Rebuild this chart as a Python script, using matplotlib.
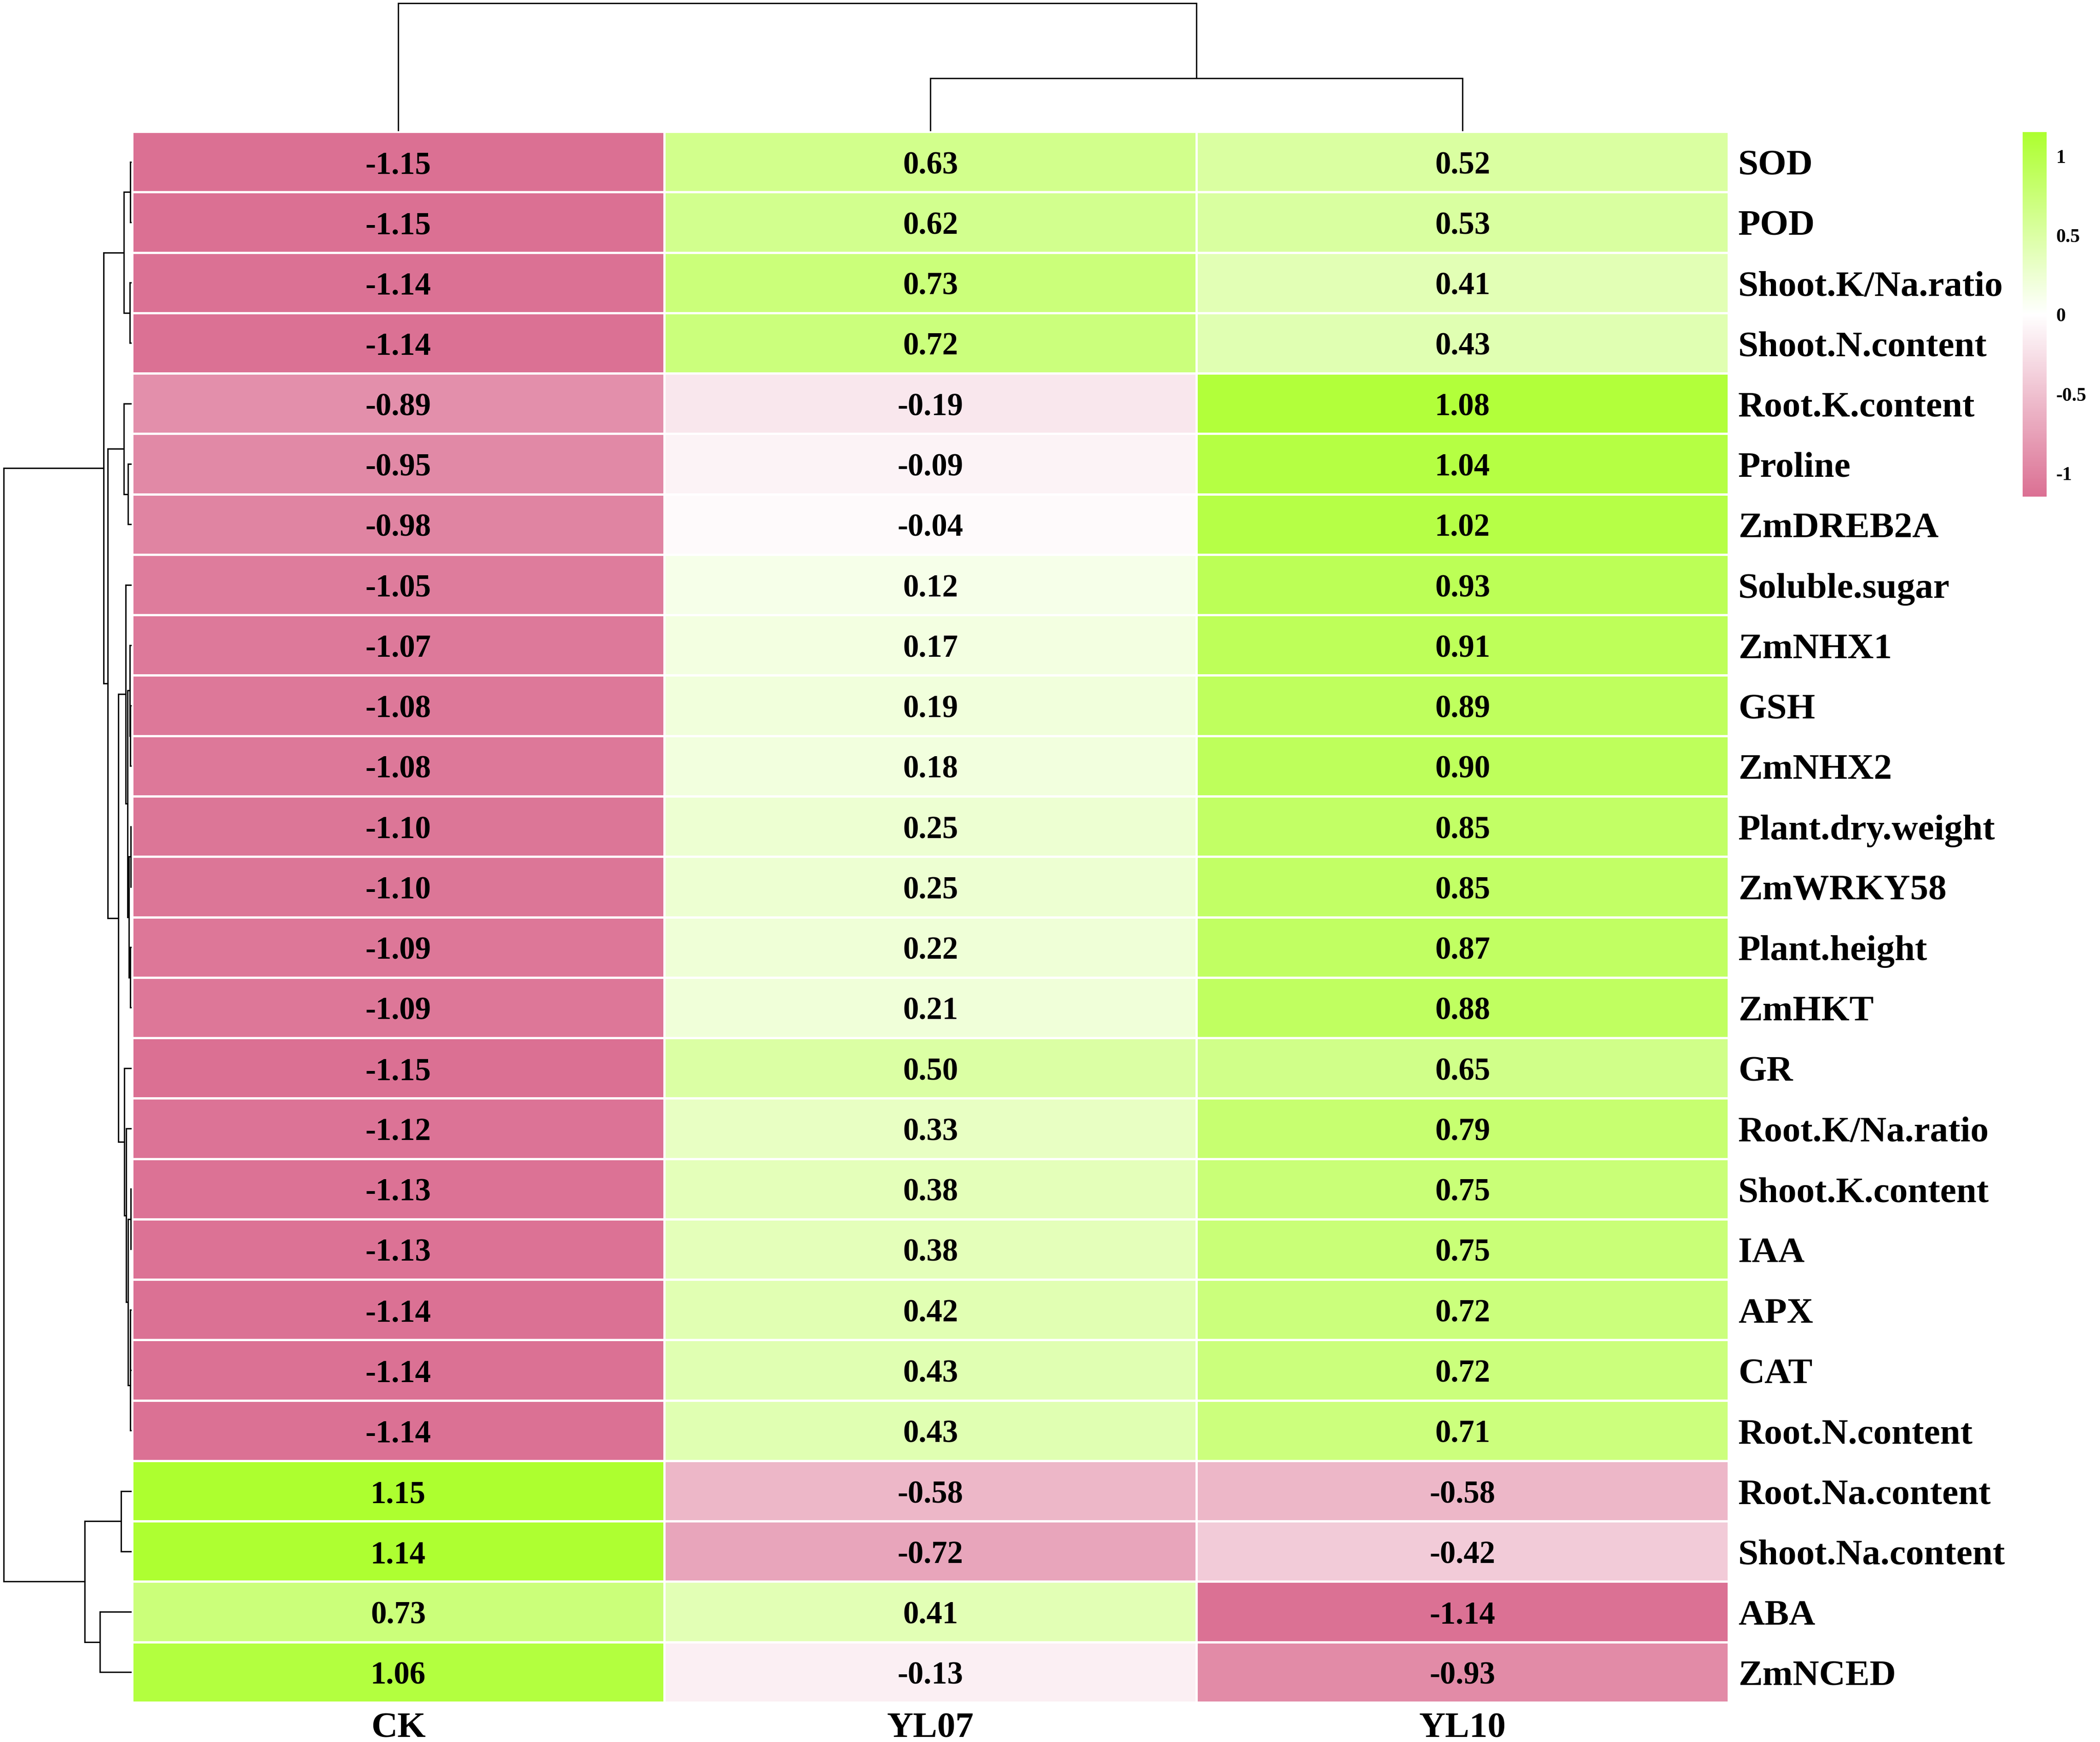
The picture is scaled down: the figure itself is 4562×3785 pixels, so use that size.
"""
Clustered heatmap of scaled trait values (CK / YL07 / YL10) with row and column dendrograms.
"""
import numpy as np
import matplotlib
matplotlib.use("Agg")
import matplotlib.pyplot as plt
from matplotlib.colors import LinearSegmentedColormap, Normalize

plt.rcParams["font.family"] = ["Liberation Serif", "DejaVu Serif"]
plt.rcParams["font.weight"] = "bold"
plt.rcParams["axes.unicode_minus"] = False

W, H = 4562, 3786
DPI = 300

samples = ["CK", "YL07", "YL10"]
traits = [
    "SOD", "POD", "Shoot.K/Na.ratio", "Shoot.N.content", "Root.K.content",
    "Proline", "ZmDREB2A", "Soluble.sugar", "ZmNHX1", "GSH", "ZmNHX2",
    "Plant.dry.weight", "ZmWRKY58", "Plant.height", "ZmHKT", "GR",
    "Root.K/Na.ratio", "Shoot.K.content", "IAA", "APX", "CAT",
    "Root.N.content", "Root.Na.content", "Shoot.Na.content", "ABA", "ZmNCED",
]
ck = [-1.15, -1.15, -1.14, -1.14, -0.89, -0.95, -0.98, -1.05, -1.07, -1.08, -1.08,
      -1.10, -1.10, -1.09, -1.09, -1.15, -1.12, -1.13, -1.13, -1.14, -1.14,
      -1.14, 1.15, 1.14, 0.73, 1.06]
yl07 = [0.63, 0.62, 0.73, 0.72, -0.19, -0.09, -0.04, 0.12, 0.17, 0.19, 0.18,
        0.25, 0.25, 0.22, 0.21, 0.50, 0.33, 0.38, 0.38, 0.42, 0.43,
        0.43, -0.58, -0.72, 0.41, -0.13]
yl10 = [0.52, 0.53, 0.41, 0.43, 1.08, 1.04, 1.02, 0.93, 0.91, 0.89, 0.90,
        0.85, 0.85, 0.87, 0.88, 0.65, 0.79, 0.75, 0.75, 0.72, 0.72,
        0.71, -0.58, -0.42, -1.14, -0.93]
cbar_ticks = [-1, -0.5, 0, 0.5, 1]

mat = np.column_stack([ck, yl07, yl10])
n_rows, n_cols = mat.shape


def upgma_ordered(X):
    """Average-linkage (UPGMA) on euclidean distance, merging only neighbours in the given order."""
    D = np.sqrt(((X[:, None, :] - X[None, :, :]) ** 2).sum(axis=2))
    groups = [(i, [i]) for i in range(len(X))]
    merges = []
    nid = len(X)
    while len(groups) > 1:
        best = None
        for k in range(len(groups) - 1):
            d = D[np.ix_(groups[k][1], groups[k + 1][1])].mean()
            if best is None or d < best[0] - 1e-12:
                best = (d, k)
        d, k = best
        (ia, ma), (ib, mb) = groups[k], groups[k + 1]
        merges.append((nid, ia, ib, d))
        groups[k:k + 2] = [(nid, ma + mb)]
        nid += 1
    return merges


def dendro_segments(merges, n):
    pos = {i: i + 0.5 for i in range(n)}
    hgt = {i: 0.0 for i in range(n)}
    segs = []
    for nid, a, b, d in merges:
        segs.append(((hgt[a], pos[a]), (d, pos[a])))
        segs.append(((d, pos[a]), (d, pos[b])))
        segs.append(((d, pos[b]), (hgt[b], pos[b])))
        pos[nid] = (pos[a] + pos[b]) / 2
        hgt[nid] = d
    return segs, merges[-1][3]


cmap = LinearSegmentedColormap.from_list("pg", ["palevioletred", "white", "greenyellow"])
norm = Normalize(vmin=mat.min(), vmax=mat.max())

fig = plt.figure(figsize=(W / DPI, H / DPI), dpi=DPI)

# heatmap
x0, x1, y0, y1 = 287, 3755, 287, 3700
ax = fig.add_axes([x0 / W, 1 - y1 / H, (x1 - x0) / W, (y1 - y0) / H])
ax.pcolormesh(np.arange(n_cols + 1), np.arange(n_rows + 1), mat, cmap=cmap, norm=norm,
              edgecolors="white", linewidth=0.8)
ax.set_xlim(0, n_cols)
ax.set_ylim(n_rows, 0)
for s in ax.spines.values():
    s.set_visible(False)
for i in range(n_rows):
    for j in range(n_cols):
        ax.text(j + 0.5, i + 0.5, f"{mat[i, j]:.2f}", ha="center", va="center_baseline",
                fontsize=16.5, fontweight="bold")
ax.set_xticks(np.arange(n_cols) + 0.5, samples, fontsize=19, fontweight="bold")
ax.set_yticks(np.arange(n_rows) + 0.5, traits, fontsize=19, fontweight="bold")
ax.yaxis.tick_right()
ax.tick_params(length=0, axis="x", pad=5)
ax.tick_params(length=0, axis="y", pad=5)

# row dendrogram
axl = fig.add_axes([8 / W, 1 - y1 / H, (284 - 8) / W, (y1 - y0) / H])
segs, top = dendro_segments(upgma_ordered(mat), n_rows)
for (ha, pa), (hb, pb) in segs:
    axl.plot([ha, hb], [pa, pb], color="black", lw=0.7, clip_on=False,
             solid_capstyle="projecting")
axl.set_xlim(top, 0)
axl.set_ylim(n_rows, 0)
axl.axis("off")

# column dendrogram
axt = fig.add_axes([x0 / W, 1 - 284 / H, (x1 - x0) / W, (284 - 8) / H])
segs, top = dendro_segments(upgma_ordered(mat.T), n_cols)
for (ha, pa), (hb, pb) in segs:
    axt.plot([pa, pb], [ha, hb], color="black", lw=0.7, clip_on=False,
             solid_capstyle="projecting")
axt.set_xlim(0, n_cols)
axt.set_ylim(0, top)
axt.axis("off")

# colour key
cax = fig.add_axes([4394 / W, 1 - 1080 / H, 52 / W, 792 / H])
sm = plt.cm.ScalarMappable(norm=norm, cmap=cmap)
cb = fig.colorbar(sm, cax=cax, ticks=cbar_ticks)
cb.outline.set_visible(False)
cb.ax.set_yticklabels([f"{t:g}" for t in cbar_ticks], fontsize=10, fontweight="bold")
cb.ax.tick_params(length=0, pad=5)

fig.savefig("out.png", dpi=DPI)
